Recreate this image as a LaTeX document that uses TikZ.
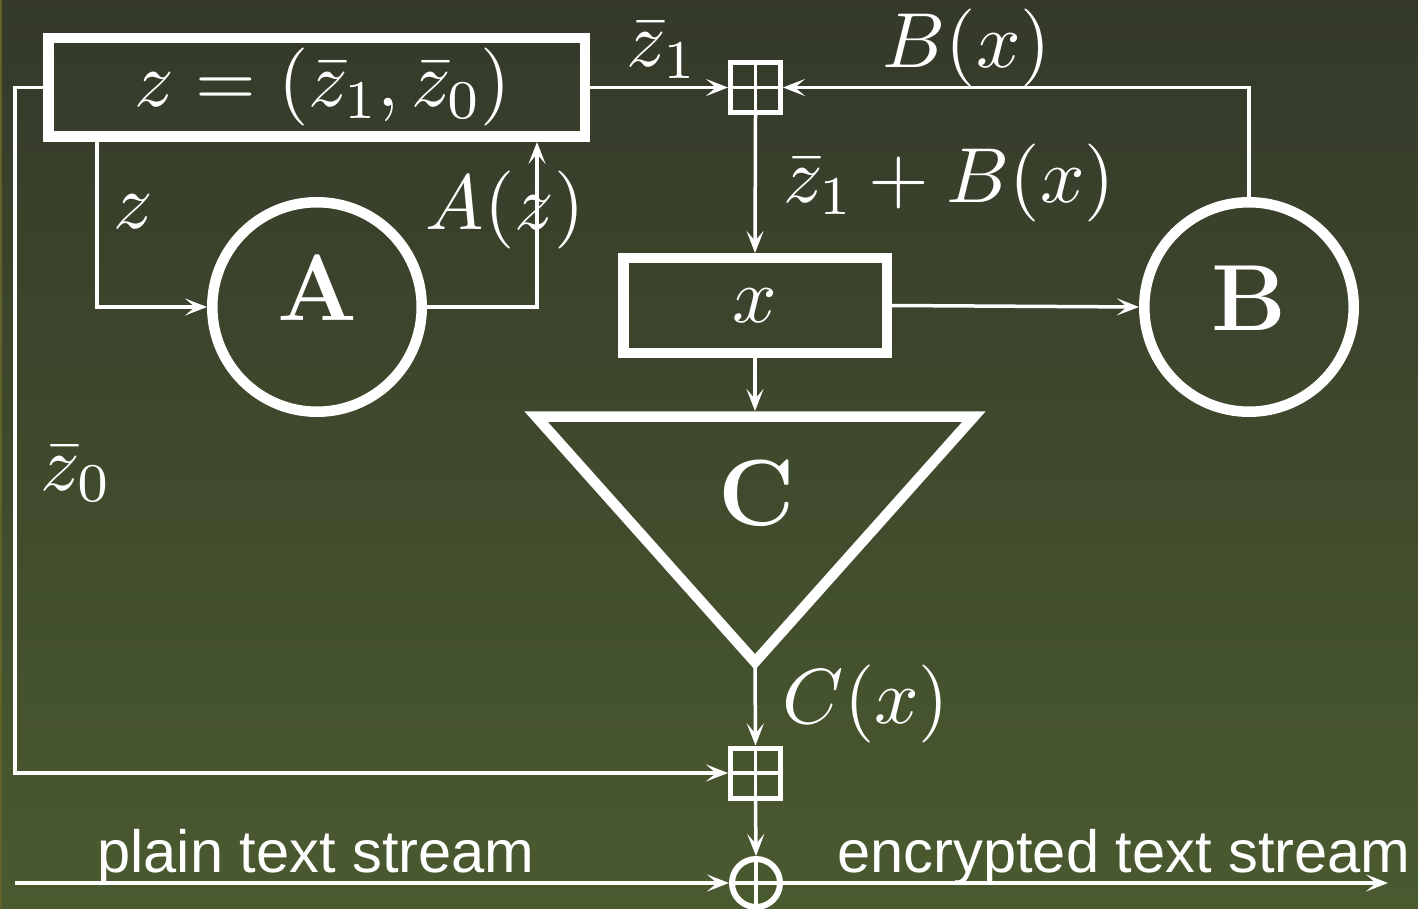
\RequirePackage{fix-cm}
\documentclass[tikz,border=0pt]{standalone}
\usepackage{fontspec}
\newfontfamily\labelsans{Liberation Sans}
\usetikzlibrary{arrows.meta}

% scale the ten-point and seven-point designs of the math fonts freely
\DeclareFontShape{OT1}{cmr}{m}{n}{<-30> cmr7 <30-> cmr10}{}
\DeclareFontShape{OML}{cmm}{m}{it}{<-30> cmmi7 <30-> cmmi10}{}
\DeclareFontShape{OMS}{cmsy}{m}{n}{<-30> cmsy7 <30-> cmsy10}{}

\definecolor{bgtop}{RGB}{52,57,42}
\definecolor{bgbot}{RGB}{74,90,47}
\definecolor{edgeolive}{RGB}{96,98,40}

\tikzset{
  >={Stealth[length=11pt,width=8.5pt,inset=5pt]},
  wire/.style={draw=white, line width=1.75pt},
  heavybox/.style={draw=white, line width=5.25pt, rectangle, inner sep=0pt,
    text=white, font={\fontsize{39}{46}\selectfont}},
  heavycirc/.style={draw=white, line width=5.25pt, circle, inner sep=0pt,
    minimum size=104.75pt},
  plusmark/.style={path picture={
    \draw[white, line width=1.6pt]
      (path picture bounding box.north) -- (path picture bounding box.south)
      (path picture bounding box.west) -- (path picture bounding box.east);}},
  boxplus/.style={draw=white, line width=2.5pt, rectangle, inner sep=0pt,
    minimum size=25pt, plusmark},
  oplus/.style={draw=white, line width=3pt, circle, inner sep=0pt,
    minimum size=24pt, plusmark},
  mathlab/.style={text=white, inner sep=0pt, anchor=base,
    font={\fontsize{39}{46}\selectfont}},
  biglet/.style={text=white, inner sep=0pt, anchor=base,
    font={\fontsize{47}{52}\selectfont\bfseries}},
  streamlab/.style={text=white, inner sep=0pt, anchor=base,
    font={\labelsans\fontsize{29.8}{34}\selectfont}}
}

\begin{document}
\begin{tikzpicture}[x=0.5pt, y=-0.5pt]
  % background
  \useasboundingbox (0,0) rectangle (1418,909);
  \shade[top color=bgtop, bottom color=bgbot] (0,0) rectangle (1418,909);
  \fill[edgeolive] (0,0) rectangle (2,909);

  % blocks
  \node[heavybox, minimum width=268.25pt, minimum height=49.25pt]
    (zreg) at (316.5,87.5) {\hspace{6pt}$z=(\bar z_1,\bar z_0)$};
  \node[heavybox, minimum width=131.75pt, minimum height=47.25pt]
    (xreg) at (755,305.5) {$x$};
  \node[heavycirc] (fA) at (317,307) {};
  \node[heavycirc] (fB) at (1249,307) {};
  \node[biglet] (labA) at (317,320) {A};
  \node[biglet] (labB) at (1249,330) {B};

  % output function C
  \coordinate (cTL) at (536,416.5);
  \coordinate (cTR) at (974,416.5);
  \coordinate (cBot) at (755,662);
  \coordinate (cIn) at (755,411);
  \coordinate (cOut) at (755,668);
  \draw[white, line width=5.25pt, line join=miter] (cTL) -- (cTR) -- (cBot) -- cycle;
  \node[biglet] (labC) at (757,525) {C};

  % combiners
  \node[boxplus] (add1) at (755.5,87.5) {};
  \node[boxplus] (add2) at (755.5,773) {};
  \node[oplus] (xr) at (756,883) {};

  % helper coordinates
  \coordinate (zx) at (97,0);
  \coordinate (ax) at (537,0);
  \coordinate (lt) at (15,87.5);
  \coordinate (pin) at (15,883);
  \coordinate (pout) at (1388,883);

  % connectors
  \draw[wire,->] (zreg.west) -- (lt) |- (add2.west);
  \draw[wire,->] (zreg.south -| zx) |- (fA.west);
  \draw[wire,->] (fA.east) -| (zreg.south -| ax);
  \draw[wire,->] (zreg.east) -- (add1.west);
  \draw[wire,->] (fB.north) |- (add1.east);
  \draw[wire,->] (add1.south) -- (xreg.north);
  \draw[wire,->] (xreg.east) -- (fB.west);
  \draw[wire,->] (xreg.south) -- (cIn);
  \draw[wire,->] (cOut) -- (add2.north);
  \draw[wire,->] (add2.south) -- (xr.north);
  \draw[wire,->] (pin) -- (xr.west);
  \draw[wire,->] (xr.east) -- (pout);

  % signal labels
  \node[mathlab] (lz1) at (661,67) {$\bar z_1$};
  \node[mathlab] (lBx) at (967,68) {$B(x)$};
  \node[mathlab] (lsum) at (949,203) {$\bar z_1+B(x)$};
  \node[mathlab] (lz) at (133,228) {$z$};
  \node[mathlab] (lAz) at (505,230) {$A(z)$};
  \node[mathlab] (lz0) at (75,490) {$\bar z_0$};
  \node[mathlab] (lCx) at (866,723) {$C(x)$};
  \node[streamlab] (lplain) at (316,872) {plain text stream};
  \node[streamlab] (lenc) at (1124,872) {encrypted text stream};
\end{tikzpicture}
\end{document}
